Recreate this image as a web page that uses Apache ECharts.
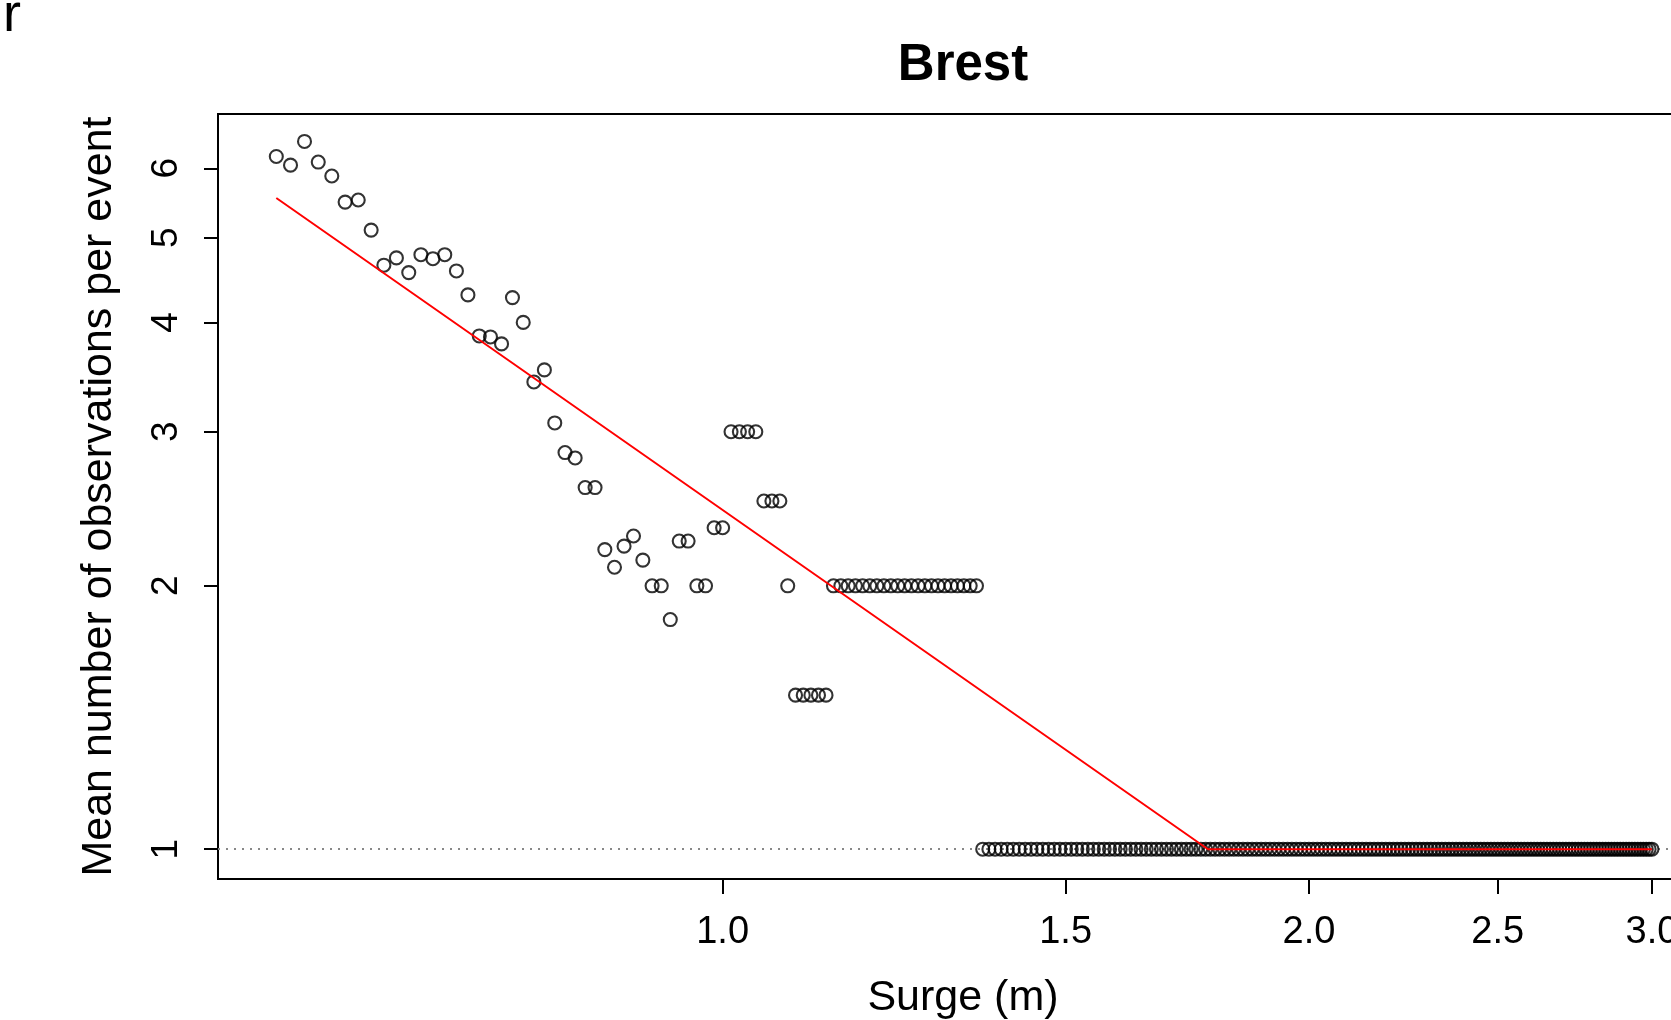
<!DOCTYPE html>
<html>
<head>
<meta charset="utf-8">
<title>Brest</title>
<script src="https://cdn.jsdelivr.net/npm/echarts@6/dist/echarts.min.js"></script>
<style>
  html, body { margin: 0; padding: 0; background: #fff; }
  #main { width: 1671px; height: 1020px; }
</style>
</head>
<body>
<div id="main"></div>
<script>
// thresholds (m) and mean number of observations per event
const surge = [
  0.59, 0.60, 0.61, 0.62, 0.63, 0.64, 0.65, 0.66, 0.67, 0.68,
  0.69, 0.70, 0.71, 0.72, 0.73, 0.74, 0.75, 0.76, 0.77, 0.78,
  0.79, 0.80, 0.81, 0.82, 0.83, 0.84, 0.85, 0.86, 0.87, 0.88,
  0.89, 0.90, 0.91, 0.92, 0.93, 0.94, 0.95, 0.96, 0.97, 0.98,
  0.99, 1.00, 1.01, 1.02, 1.03, 1.04, 1.05, 1.06, 1.07, 1.08,
  1.09, 1.10, 1.11, 1.12, 1.13, 1.14, 1.15, 1.16, 1.17, 1.18,
  1.19, 1.20, 1.21, 1.22, 1.23, 1.24, 1.25, 1.26, 1.27, 1.28,
  1.29, 1.30, 1.31, 1.32, 1.33, 1.34, 1.35, 1.36, 1.37, 1.38,
  1.39, 1.40, 1.41, 1.42, 1.43, 1.44, 1.45, 1.46, 1.47, 1.48,
  1.49, 1.50, 1.51, 1.52, 1.53, 1.54, 1.55, 1.56, 1.57, 1.58,
  1.59, 1.60, 1.61, 1.62, 1.63, 1.64, 1.65, 1.66, 1.67, 1.68,
  1.69, 1.70, 1.71, 1.72, 1.73, 1.74, 1.75, 1.76, 1.77, 1.78,
  1.79, 1.80, 1.81, 1.82, 1.83, 1.84, 1.85, 1.86, 1.87, 1.88,
  1.89, 1.90, 1.91, 1.92, 1.93, 1.94, 1.95, 1.96, 1.97, 1.98,
  1.99, 2.00, 2.01, 2.02, 2.03, 2.04, 2.05, 2.06, 2.07, 2.08,
  2.09, 2.10, 2.11, 2.12, 2.13, 2.14, 2.15, 2.16, 2.17, 2.18,
  2.19, 2.20, 2.21, 2.22, 2.23, 2.24, 2.25, 2.26, 2.27, 2.28,
  2.29, 2.30, 2.31, 2.32, 2.33, 2.34, 2.35, 2.36, 2.37, 2.38,
  2.39, 2.40, 2.41, 2.42, 2.43, 2.44, 2.45, 2.46, 2.47, 2.48,
  2.49, 2.50, 2.51, 2.52, 2.53, 2.54, 2.55, 2.56, 2.57, 2.58,
  2.59, 2.60, 2.61, 2.62, 2.63, 2.64, 2.65, 2.66, 2.67, 2.68,
  2.69, 2.70, 2.71, 2.72, 2.73, 2.74, 2.75, 2.76, 2.77, 2.78,
  2.79, 2.80, 2.81, 2.82, 2.83, 2.84, 2.85, 2.86, 2.87, 2.88,
  2.89, 2.90, 2.91, 2.92, 2.93, 2.94, 2.95, 2.96, 2.97, 2.98,
  2.99, 3.00
];
const meanObs = [
  6.19, 6.05, 6.44, 6.10, 5.88, 5.49, 5.52, 5.10, 4.65, 4.74,
  4.56, 4.78, 4.73, 4.78, 4.58, 4.30, 3.86, 3.85, 3.78, 4.27,
  4.00, 3.42, 3.53, 3.07, 2.84, 2.80, 2.59, 2.59, 2.20, 2.10,
  2.22, 2.28, 2.14, 2.00, 2.00, 1.83, 2.25, 2.25, 2.00, 2.00,
  2.33, 2.33, 3.00, 3.00, 3.00, 3.00, 2.50, 2.50, 2.50, 2.00,
  1.50, 1.50, 1.50, 1.50, 1.50, 2, 2, 2, 2, 2,
  2, 2, 2, 2, 2, 2, 2, 2, 2, 2,
  2, 2, 2, 2, 2, 2, 2, 1, 1, 1,
  1, 1, 1, 1, 1, 1, 1, 1, 1, 1,
  1, 1, 1, 1, 1, 1, 1, 1, 1, 1,
  1, 1, 1, 1, 1, 1, 1, 1, 1, 1,
  1, 1, 1, 1, 1, 1, 1, 1, 1, 1,
  1, 1, 1, 1, 1, 1, 1, 1, 1, 1,
  1, 1, 1, 1, 1, 1, 1, 1, 1, 1,
  1, 1, 1, 1, 1, 1, 1, 1, 1, 1,
  1, 1, 1, 1, 1, 1, 1, 1, 1, 1,
  1, 1, 1, 1, 1, 1, 1, 1, 1, 1,
  1, 1, 1, 1, 1, 1, 1, 1, 1, 1,
  1, 1, 1, 1, 1, 1, 1, 1, 1, 1,
  1, 1, 1, 1, 1, 1, 1, 1, 1, 1,
  1, 1, 1, 1, 1, 1, 1, 1, 1, 1,
  1, 1, 1, 1, 1, 1, 1, 1, 1, 1,
  1, 1, 1, 1, 1, 1, 1, 1, 1, 1,
  1, 1, 1, 1, 1, 1, 1, 1, 1, 1,
  1, 1
];

// red fitted line (straight on log-log, floored at 1)
const fitSurge = [0.59, 1.775, 3.0];
const fitMean = [5.55, 1.0, 1.0];

const xTicks = [1.0, 1.5, 2.0, 2.5, 3.0];
const yTicks = [1, 2, 3, 4, 5, 6];

const FONT = '"Liberation Sans", Arial, sans-serif';

const chart = echarts.init(document.getElementById('main'));
const option = {
  animation: false,
  backgroundColor: '#fff',
  textStyle: { fontFamily: FONT, color: '#000' },
  title: {
    text: 'Brest',
    left: 963,
    top: 40,
    padding: 0,
    textAlign: 'center',
    textStyle: { fontSize: 51, fontWeight: 'bold', color: '#000', fontFamily: FONT }
  },
  graphic: [
    {
      type: 'text',
      x: 3,
      y: 16,
      style: { text: 'r', fill: '#000', font: '54px ' + FONT, verticalAlign: 'middle' }
    }
  ],
  grid: {
    left: 218,
    right: -37,
    top: 114,
    bottom: 141,
    outerBoundsMode: 'none',
    containLabel: false,
    show: true,
    borderColor: '#000',
    borderWidth: 2
  },
  xAxis: {
    type: 'log',
    min: 0.5507,
    max: 3.2056,
    name: 'Surge (m)',
    nameLocation: 'middle',
    nameGap: 98,
    nameTextStyle: { fontSize: 43, color: '#000', fontFamily: FONT },
    axisLine: { show: true, onZero: false, lineStyle: { color: '#000', width: 2 } },
    axisTick: { show: true, length: 15, customValues: xTicks, lineStyle: { color: '#000', width: 2 } },
    axisLabel: {
      customValues: xTicks,
      fontSize: 38,
      color: '#000',
      margin: 35,
      formatter: (v) => Number(v).toFixed(1)
    },
    splitLine: { show: false },
    minorTick: { show: false }
  },
  yAxis: {
    type: 'log',
    min: 0.9246,
    max: 6.922,
    name: 'Mean number of observations per event',
    nameLocation: 'middle',
    nameGap: 97,
    nameTextStyle: { fontSize: 43, color: '#000', fontFamily: FONT },
    axisLine: { show: true, onZero: false, lineStyle: { color: '#000', width: 2 } },
    axisTick: { show: true, length: 14, customValues: yTicks, lineStyle: { color: '#000', width: 2 } },
    axisLabel: {
      customValues: yTicks,
      fontSize: 37,
      color: '#000',
      margin: 33,
      rotate: 90,
      formatter: (v) => String(Math.round(v))
    },
    splitLine: { show: false },
    minorTick: { show: false }
  },
  series: [
    {
      type: 'scatter',
      silent: true,
      data: surge.map((s, i) => [s, meanObs[i]]),
      symbol: 'circle',
      symbolSize: 13,
      itemStyle: { color: 'rgba(0,0,0,0)', borderColor: '#000', borderWidth: 2.1 },
      z: 3,
      markLine: {
        silent: true,
        symbol: ['none', 'none'],
        label: { show: false },
        lineStyle: { color: '#888', type: [2, 6], width: 2 },
        data: [{ yAxis: 1 }],
        z: 1
      }
    },
    {
      type: 'line',
      silent: true,
      data: fitSurge.map((s, i) => [s, fitMean[i]]),
      symbol: 'none',
      lineStyle: { color: '#ff0000', width: 2 },
      z: 4
    }
  ]
};
chart.setOption(option);
</script>
</body>
</html>
